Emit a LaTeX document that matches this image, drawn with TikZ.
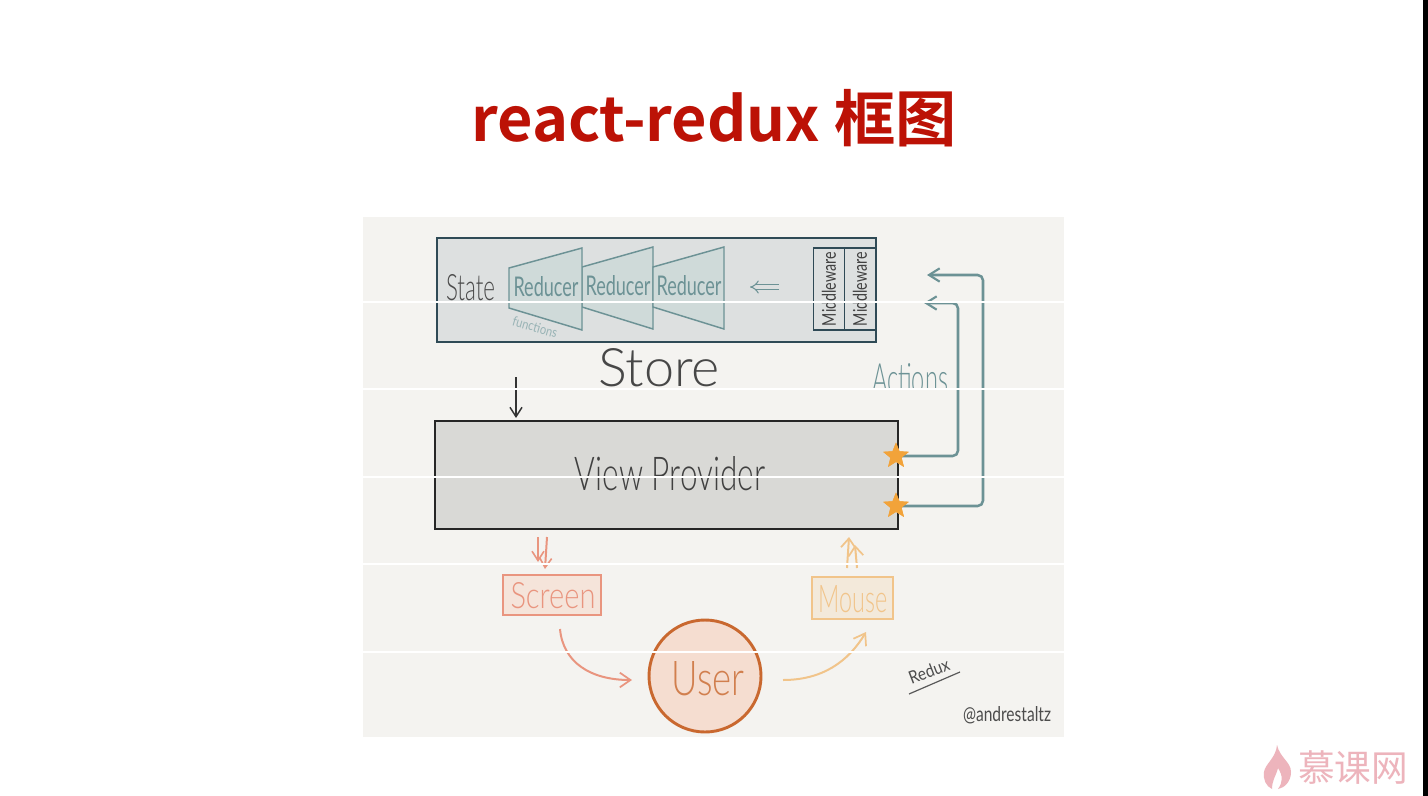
\documentclass[tikz,border=0pt]{standalone}
\usepackage{fontspec}
\usetikzlibrary{arrows.meta,shapes.geometric}
\newfontfamily\hand{Lato Light}
\newfontfamily\handr{Lato}
\newfontfamily\cjk{Noto Sans CJK SC Bold}
\newfontfamily\cjkm{Noto Sans CJK SC}
\newdimen\pxu \pxu=0.75pt
\newcommand\fit[3]{\resizebox{#1\pxu}{#2\pxu}{\hand #3}}
\newcommand\fitr[3]{\resizebox{#1\pxu}{#2\pxu}{\handr #3}}
\definecolor{panelbg}{HTML}{F4F3F0}
\definecolor{storebg}{HTML}{DDE0E0}
\definecolor{storeln}{HTML}{2F4A56}
\definecolor{teal}{HTML}{6C9295}
\definecolor{redfill}{HTML}{CFDAD9}
\definecolor{viewbg}{HTML}{D9D9D6}
\definecolor{scr}{HTML}{E9957F}
\definecolor{mou}{HTML}{F1C48A}
\definecolor{usr}{HTML}{C9682F}
\definecolor{usrfill}{HTML}{F5DDD0}
\definecolor{startone}{HTML}{F2A33A}
\definecolor{titlered}{HTML}{BC1206}
\definecolor{logopink}{HTML}{EDB4BC}
\tikzset{
 x=0.75pt,y=-0.75pt,
 lab/.style={inner sep=0pt,outer sep=0pt},
 boxn/.style={draw,inner sep=0pt,outer sep=0pt,rectangle},
 reducerbox/.style={draw=teal,fill=redfill,line width=1.1pt,line join=miter},
 action/.style={draw=teal,line width=1.9pt,rounded corners=4pt,-{Straight Barb[length=8pt,width=10pt,line width=1.6pt]}},
 starn/.style={star,star points=5,star point ratio=2.3,fill=startone,inner sep=0pt,minimum size=27*0.75pt,outer sep=0pt},
 hand arrow/.style={line width=1.5pt,-{Straight Barb[length=8pt,width=11pt,line width=1.3pt]}},
 scan/.style={draw=white,line width=1.7pt},
}
\begin{document}
\begin{tikzpicture}
\useasboundingbox (0,0) rectangle (1428,796);
\fill[white] (0,0) rectangle (1428,796);
\fill[black] (1423,0) rectangle (1428,796);
\node[lab,text=titlered] (title) at (714,118) {\resizebox{485\pxu}{!}{\cjk react-redux 框图}};
\fill[panelbg] (363,217) rectangle (1064,737);

% Store
\node[boxn,draw=storeln,fill=storebg,line width=2.2pt,minimum width=439*0.75pt,minimum height=104*0.75pt] (store) at (656.5,290) {};
\node[lab,text=black!70] (state) at (470.5,288) {\fit{49}{26}{State}};
\filldraw[reducerbox] (582,267) -- (653,247) -- (653,329) -- (582,307) -- cycle;
\filldraw[reducerbox] (653,267) -- (724,247) -- (724,329) -- (653,307) -- cycle;
\filldraw[reducerbox] (509,268) -- (582,248) -- (582,330) -- (509,308) -- cycle;
\node[lab,text=teal] (r1) at (546,287) {\fitr{65}{20}{Reducer}};
\node[lab,text=teal] (r2) at (618,286) {\fitr{65}{20}{Reducer}};
\node[lab,text=teal] (r3) at (689,286) {\fitr{65}{20}{Reducer}};
\node[lab,text=teal!70,rotate=-16] (fn) at (535,327) {\fitr{46}{10}{functions}};
\node[boxn,draw=storeln,fill=storebg,line width=1.2pt,minimum width=31*0.75pt,minimum height=82*0.75pt] (mw1) at (829,289) {};
\node[boxn,draw=storeln,fill=storebg,line width=1.2pt,minimum width=31*0.75pt,minimum height=82*0.75pt] (mw2) at (860,289) {};
\node[lab,rotate=90,text=black!75] (mwt1) at (mw1) {\fitr{74}{14}{Middleware}};
\node[lab,rotate=90,text=black!75] (mwt2) at (mw2) {\fitr{74}{14}{Middleware}};
\coordinate (dblA) at (779,287);
\coordinate (dblB) at (750,287);
\draw[teal,line width=.8pt,double=storebg,double distance=2.6pt,-{Implies}] (dblA) -- (dblB);
\node[lab,text=black!72] (storelab) at (659,368) {\fit{122}{38}{Store}};

% Actions label
\node[lab,text=teal] (actions) at (910,379) {\fit{76}{30}{Actions}};
\fill[panelbg] (866,390) rectangle (952,398);

% View provider
\node[boxn,draw=black!85,fill=viewbg,line width=1.6pt,minimum width=463*0.75pt,minimum height=108*0.75pt] (view) at (666.5,475) {};
\node[lab,text=black!75] (viewlab) at (670,474) {\fit{190}{34}{View Provider}};

\node[starn] (s1) at (896,456) {};
\node[starn] (s2) at (896,506) {};
\coordinate (tipA) at (924,303);
\coordinate (cornA1) at (958,303);
\coordinate (cornA2) at (958,456);
\coordinate (tipB) at (927,275);
\coordinate (cornB1) at (983,275);
\coordinate (cornB2) at (983,506);
\draw[action] (s1.center) -- (cornA2) -- (cornA1) -- (tipA);
\draw[action] (s2.center) -- (cornB2) -- (cornB1) -- (tipB);
\node[starn] at (s1) {};
\node[starn] at (s2) {};

% black arrow
\coordinate (bA) at (516,377);
\coordinate (bB) at (516,418);
\draw[black!80,line width=1.3pt,-{Straight Barb[length=7pt,width=9pt,line width=1.1pt]}] (bA) -- (bB);

% Screen, Mouse, User
\node[boxn,draw=scr,fill=usrfill!70!panelbg,line width=1.5pt,minimum width=98*0.75pt,minimum height=40*0.75pt] (screen) at (552,595) {};
\node[lab,text=scr] (screenlab) at (553,596) {\fit{85}{26}{Screen}};
\node[boxn,draw=mou,fill=mou!22!panelbg,line width=1.5pt,minimum width=81*0.75pt,minimum height=42*0.75pt] (mouse) at (852.5,598) {};
\node[lab,text=mou] (mouselab) at (853,599) {\fit{69}{27}{Mouse}};
\node[circle,draw=usr,fill=usrfill,line width=2.2pt,minimum size=112*0.75pt,inner sep=0pt] (user) at (705,676) {};
\node[lab,text=usr!85] (userlab) at (708,679) {\fit{73}{34}{User}};

\coordinate (sA1) at (538,537);
\coordinate (sB1) at (538,562);
\coordinate (sA2) at (547,537);
\coordinate (sB2) at (545,569);
\draw[scr,line width=1.5pt,-{Straight Barb[length=7pt,width=9pt,line width=1.2pt]}] (sA1) -- (sB1);
\draw[scr,line width=1.5pt,-{Straight Barb[length=7pt,width=9pt,line width=1.2pt]}] (sA2) -- (sB2);
\coordinate (mA1) at (847,568);
\coordinate (mB1) at (849,537);
\coordinate (mA2) at (857,568);
\coordinate (mB2) at (855,545);
\draw[mou,line width=1.5pt,-{Straight Barb[length=7pt,width=11pt,line width=1.3pt]}] (mA1) -- (mB1);
\draw[mou,line width=1.5pt,-{Straight Barb[length=7pt,width=11pt,line width=1.3pt]}] (mA2) -- (mB2);

\coordinate (cA) at (560,629);
\coordinate (cB) at (632,680);
\draw[hand arrow,scr] (cA) .. controls (563,662) and (590,680) .. (cB);
\coordinate (dA) at (783,680);
\coordinate (dB) at (866,632);
\draw[hand arrow,mou] (dA) .. controls (822,680) and (848,662) .. (dB);

\node[lab,text=black!70,rotate=21] (redux) at (929,671) {\fitr{42}{13}{Redux}};
\coordinate (uA) at (909,694);
\coordinate (uB) at (960,672);
\draw[black!65,line width=.9pt] (uA) -- (uB);
\node[lab,text=black!70] (credit) at (1007,715) {\fitr{88}{15}{@andrestaltz}};

% scan lines
\foreach \yy in {302,389,477,564,652} \draw[scan] (363,\yy) -- (1064,\yy);

% logo
\fill[logopink] (1277,745) .. controls (1280,758) and (1291,762) .. (1291,772) .. controls (1291,782) and (1284,788) .. (1278,789) .. controls (1283,782) and (1283,776) .. (1278,768) .. controls (1276,776) and (1272,780) .. (1272,789) .. controls (1266,786) and (1263,780) .. (1264,772) .. controls (1265,764) and (1276,758) .. (1277,745) -- cycle;
\node[lab,text=logopink] (logo) at (1353,768) {\resizebox{110\pxu}{!}{\cjkm 慕课网}};
\end{tikzpicture}
\end{document}
